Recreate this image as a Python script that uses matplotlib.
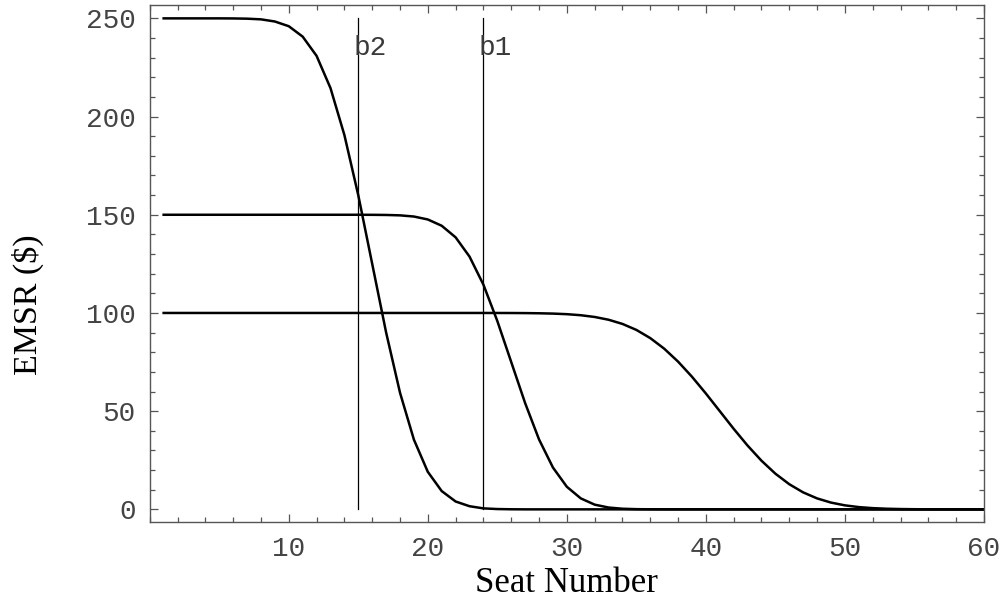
import matplotlib
matplotlib.use("Agg")
import matplotlib.pyplot as plt
from matplotlib.ticker import MultipleLocator

# ---- data ----
seats = list(range(1, 61))

emsr_fare1 = ([250.0] * 5 +
              [249.96, 249.84, 249.5, 248.4, 246.0, 240.7, 230.9, 214.5, 190.6, 159.9,
               125.0, 90.1, 59.4, 35.5, 19.1, 9.3, 4.0, 1.6, 0.5, 0.16, 0.04] +
              [0.0] * 34)

emsr_fare2 = ([150.0] * 15 +
              [149.97, 149.9, 149.7, 149.1, 147.6, 144.4, 138.5, 128.7, 114.4, 95.9,
               75.0, 54.1, 35.6, 21.3, 11.5, 5.6, 2.4, 0.93, 0.32, 0.1, 0.03] +
              [0.0] * 24)

emsr_fare3 = ([100.0] * 24 +
              [99.99, 99.97, 99.93, 99.84, 99.68, 99.38, 98.85, 97.96, 96.55, 94.42,
               91.37, 87.2, 81.83, 75.23, 67.53, 58.99, 50.0, 41.01, 32.47, 24.77,
               18.17, 12.8, 8.63, 5.58, 3.45, 2.04, 1.15, 0.62, 0.32, 0.16,
               0.07, 0.03, 0.01] +
              [0.0] * 3)

protection_levels = [15, 24]
protection_labels = ["b2", "b1"]

x_ticks = [10, 20, 30, 40, 50, 60]
y_ticks = [0, 50, 100, 150, 200, 250]

# ---- figure ----
fig = plt.figure(figsize=(10.03, 6.11), dpi=100)
ax = fig.add_axes([0.1493, 0.1461, 0.9810 - 0.1493, 0.9918 - 0.1461])

for ys in (emsr_fare1, emsr_fare2, emsr_fare3):
    ax.plot(seats, ys, color="black", lw=1.8, solid_joinstyle="round")

mono = "Liberation Mono"
for b, lab in zip(protection_levels, protection_labels):
    ax.plot([b, b], [0, 250], color="black", lw=0.9)
    ax.text(b + 0.85, 235, lab, family=mono, fontsize=20, color="#3a3a3a",
            ha="center", va="center")

ax.set_xlim(0, 60)
ax.set_ylim(-6.3, 256.8)

ax.xaxis.set_major_locator(MultipleLocator(10))
ax.xaxis.set_minor_locator(MultipleLocator(2))
ax.yaxis.set_major_locator(MultipleLocator(50))
ax.yaxis.set_minor_locator(MultipleLocator(10))
ax.set_xticks(x_ticks)
ax.set_yticks(y_ticks)
ax.set_xticklabels([str(v) for v in x_ticks])
ax.set_yticklabels([str(v) for v in y_ticks])

tick_col = "#555555"
ax.tick_params(which="both", direction="in", top=True, right=True,
               color=tick_col, width=0.9)
ax.tick_params(which="major", length=6, pad=10)
ax.tick_params(which="minor", length=3.5)
for lbl in ax.get_xticklabels() + ax.get_yticklabels():
    lbl.set_family(mono)
    lbl.set_fontsize(20)
    lbl.set_color("#444444")

for s in ax.spines.values():
    s.set_color(tick_col)
    s.set_linewidth(1.0)

serif = "Liberation Serif"
fig.text(566 / 1003, 1 - 583 / 611, "Seat Number", family=serif, fontsize=25,
         ha="center", va="center", color="black")
fig.text(28 / 1003, 1 - 305 / 611, "EMSR ($)", family=serif, fontsize=24.5,
         ha="center", va="center", rotation=90, color="black")

fig.savefig("out.png", dpi=100)
